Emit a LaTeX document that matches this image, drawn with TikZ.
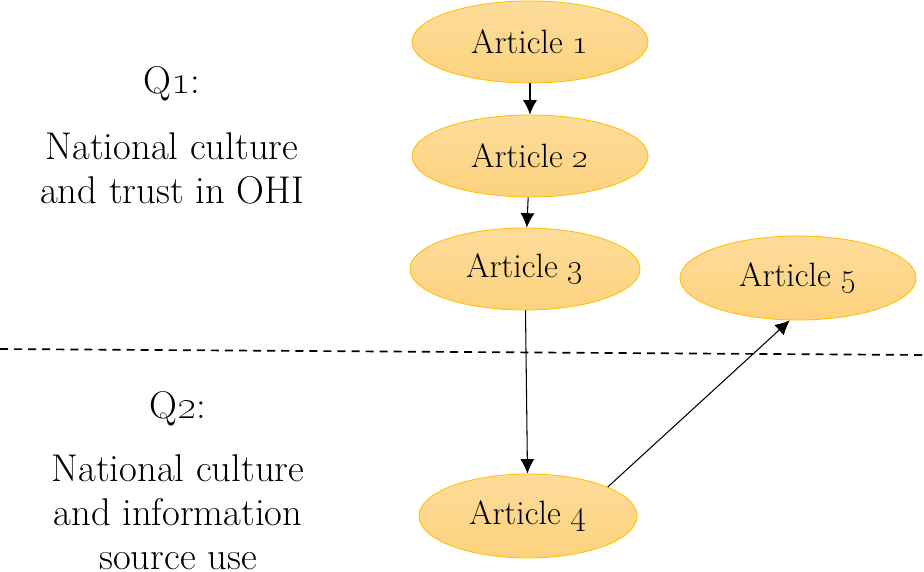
\documentclass[tikz,border=0pt]{standalone}
\usepackage{tikz}
\usetikzlibrary{arrows.meta,positioning,shapes.geometric}
\definecolor{arttop}{RGB}{253,220,155}
\definecolor{artbot}{RGB}{253,210,125}
\definecolor{artline}{RGB}{255,192,0}
\tikzset{
  article/.style={ellipse,draw=artline,line width=0.6pt,top color=arttop,bottom color=artbot,
    minimum width=5.9cm,minimum height=2.05cm,inner sep=0pt,font=\fontsize{24}{28}\selectfont},
  question/.style={align=center,font=\fontsize{27.5}{31.3}\selectfont},
  link/.style={-{Latex[length=3.6mm,width=3.5mm]},line width=0.75pt}
}
\begin{document}
\begin{tikzpicture}[x=0.025cm,y=-0.025cm]
\useasboundingbox (0,0) rectangle (924,571);
% articles
\node[article] (art1) at (530,42) {Article \oldstylenums{1}};
\node[article] (art2) at (530,156) {Article \oldstylenums{2}};
\node[article,minimum width=5.75cm] (art3) at (525,269) {Article \oldstylenums{3}};
\node[article,minimum height=2.1cm] (art5) at (798,278) {Article \oldstylenums{5}};
\node[article,minimum width=5.45cm,minimum height=2.1cm] (art4) at (528,516) {Article \oldstylenums{4}};
% questions
\node[question] (q1) at (172,84) {Q\oldstylenums{1}:};
\node[question] (q1text) at (172,168) {National culture\\and trust in OHI};
\node[question] (q2) at (178,409) {Q\oldstylenums{2}:};
\node[question] (q2text) at (178,512) {National culture\\and information\\source use};
% divider
\coordinate (divl) at (0,349);
\coordinate (divr) at (924,355);
\draw[dash pattern=on 5.7pt off 4.3pt,line width=1.2pt] (divl) -- (divr);
% links
\draw[link] (art1) -- (art2);
\draw[link] (art2) -- (art3);
\draw[link] (art3) -- (art4);
\draw[link] (art4.20) -- (art5.259);
\end{tikzpicture}
\end{document}
